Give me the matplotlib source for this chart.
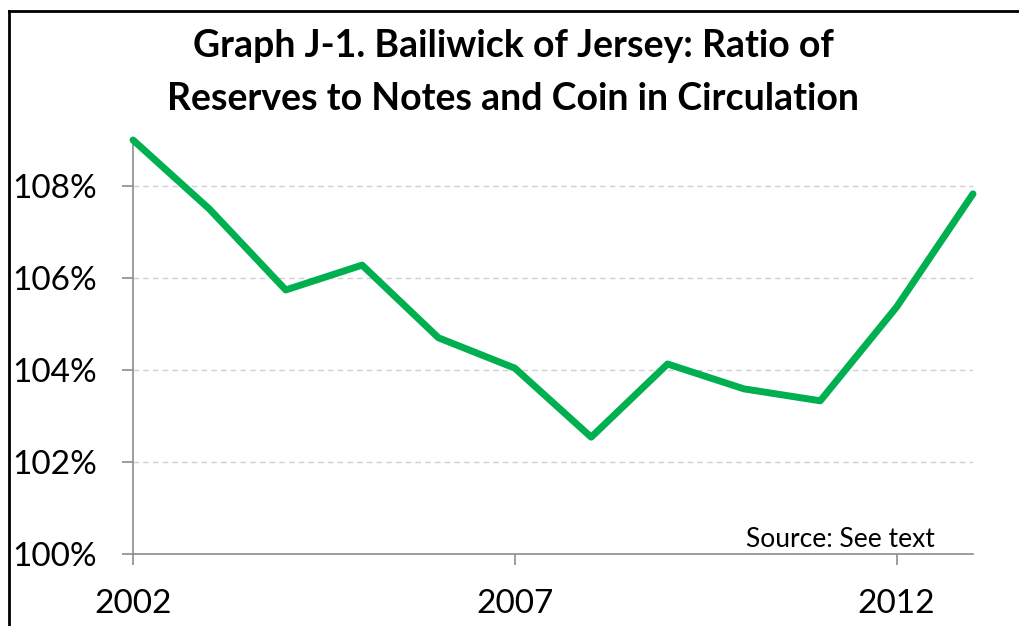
import numpy as np
import matplotlib
matplotlib.use("Agg")
import matplotlib.pyplot as plt
from matplotlib.lines import Line2D
from matplotlib.transforms import IdentityTransform

plt.rcParams['font.family'] = ['Lato', 'DejaVu Sans']

## values
years = [2002, 2003, 2004, 2005, 2006, 2007, 2008, 2009, 2010, 2011, 2012, 2013]
ratio_pct = [109.0, 107.5, 105.74, 106.28, 104.70, 104.04, 102.54, 104.13, 103.59, 103.33, 105.37, 107.83]
xtick_years = [2002, 2007, 2012]
ytick_pcts = [100, 102, 104, 106, 108]

title_lines = ["Graph J-1. Bailiwick of Jersey: Ratio of",
               "Reserves to Notes and Coin in Circulation"]
source_text = "Source: See text"

W, H = 1019, 626
fig = plt.figure(figsize=(W/100., H/100.), dpi=100)
ax = fig.add_axes([133./W, 1 - 554./H, (973 - 133.)/W, (554 - 140.)/H])

ax.plot(years, ratio_pct, color="#00B050", lw=5, solid_capstyle="round",
        solid_joinstyle="round", clip_on=False, zorder=3)

ax.set_xlim(2002, 2013)
ax.set_ylim(100, 109)
ax.set_xticks(xtick_years)
ax.set_xticklabels([str(y) for y in xtick_years])
ax.set_yticks(ytick_pcts)
ax.set_yticklabels(["%d%%" % p for p in ytick_pcts])

## dashed grid on the y ticks above the axis
for p in ytick_pcts[1:]:
    ax.axhline(p, color="#d0d0d0", lw=1, ls=(0, (4, 3)), zorder=1)

for s in ["top", "right"]:
    ax.spines[s].set_visible(False)
for s in ["left", "bottom"]:
    ax.spines[s].set_color("#8c8c8c")
    ax.spines[s].set_linewidth(1.2)

ax.tick_params(axis="both", direction="out", length=8, width=1.2, color="#8c8c8c",
               labelsize=24, labelcolor="black")
ax.tick_params(axis="x", pad=17)
ax.tick_params(axis="y", pad=18)

## pixel-positioned texts (origin bottom-left)
fig.text(935, H - 547, source_text, transform=IdentityTransform(), fontsize=19,
         ha="right", va="baseline")
fig.text(513, H - 57, title_lines[0], transform=IdentityTransform(), fontsize=27,
         fontweight="bold", ha="center", va="baseline")
fig.text(513, H - 110, title_lines[1], transform=IdentityTransform(), fontsize=27,
         fontweight="bold", ha="center", va="baseline")

## frame around the chart (left and top edges visible)
fig.add_artist(Line2D([9./W, 9./W], [0, 1 - 11./H], color="black", lw=2, transform=fig.transFigure))
fig.add_artist(Line2D([9./W, 1], [1 - 11./H, 1 - 11./H], color="black", lw=2, transform=fig.transFigure))

fig.savefig("out.png", dpi=100)
